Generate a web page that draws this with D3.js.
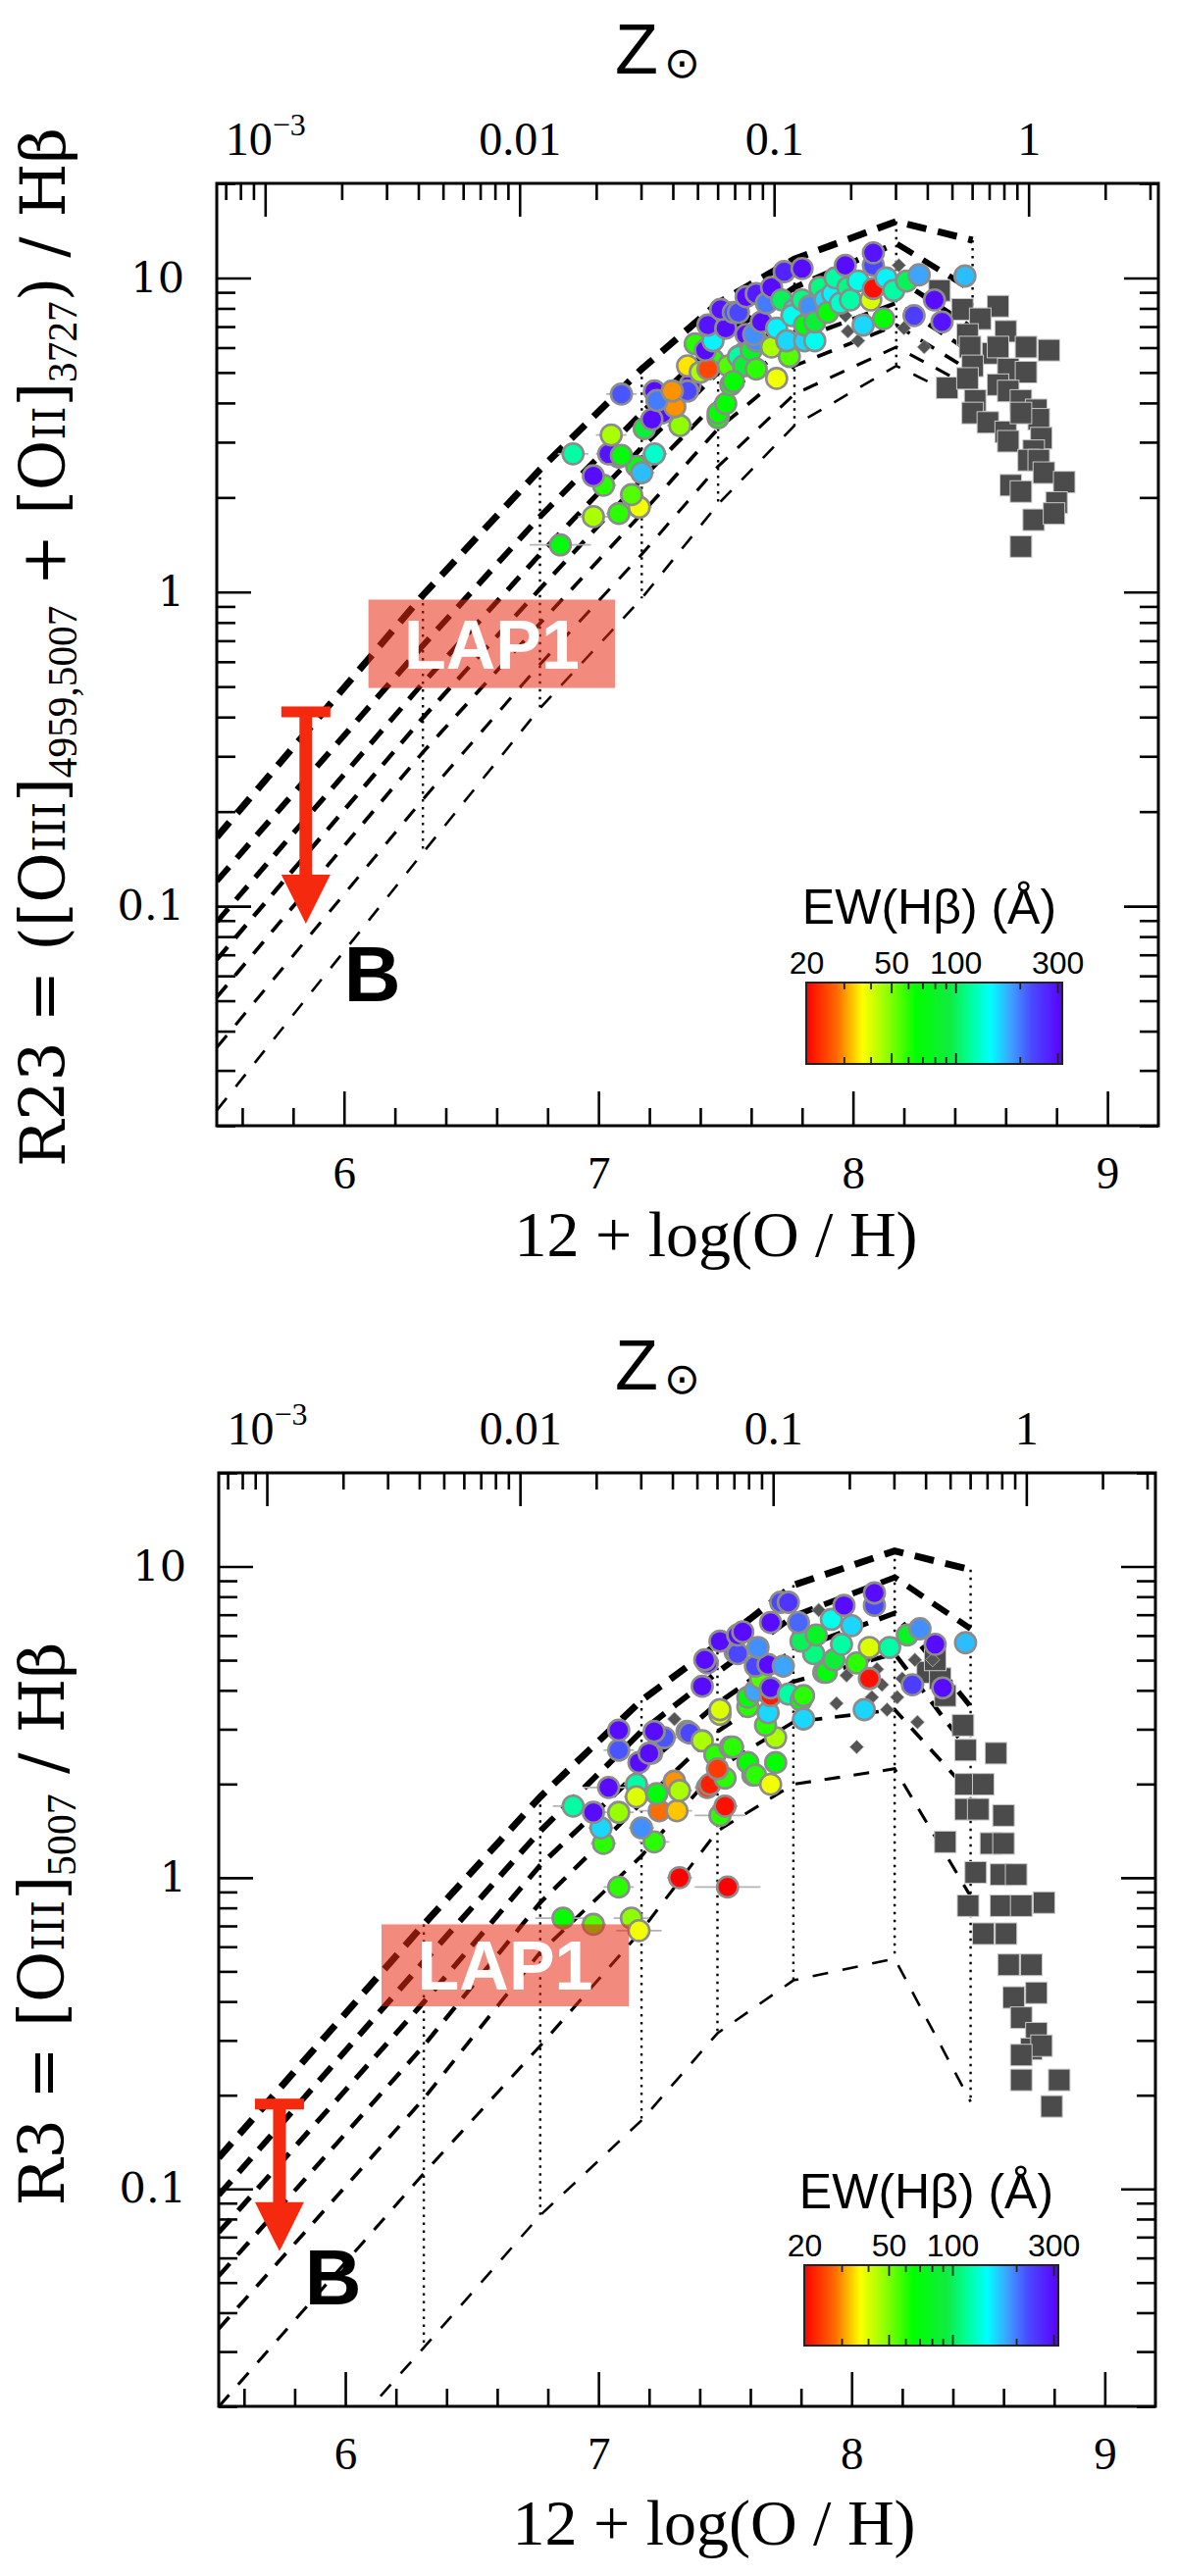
<!DOCTYPE html>
<html>
<head>
<meta charset="utf-8">
<script src="https://cdn.jsdelivr.net/npm/d3@7"></script>
<style>
  body { margin: 0; background: #fff; }
  svg { display: block; }
</style>
</head>
<body>
<svg id="fig" width="1200" height="2627"></svg>
<script>
/* Two-panel strong-line diagnostic: R23 and R3 against 12+log(O/H),
   photoionisation tracks, galaxies coloured by EW(Hb), and the LAP1 limit. */

const OH_MIN = 5.5, OH_MAX = 9.2, OH_SUN = 8.69;
const R_MIN = 0.02, R_MAX = 20;
const EW_MIN = 20, EW_MAX = 316;

// model grid: metallicity nodes, one row of log10(ratio) per ionisation-parameter track
const GRID_OH = [5.5, 6.31, 6.77, 7.17, 7.47, 7.77, 8.17, 8.47];
const R23_GRID = [
  [-0.78, -0.01,  0.39,  0.71, 0.92, 1.06, 1.18, 1.12],
  [-0.92, -0.17,  0.24,  0.57, 0.80, 0.97, 1.11, 0.96],
  [-1.05, -0.29,  0.12,  0.46, 0.70, 0.88, 1.00, 0.84],
  [-1.17, -0.40,  0.01,  0.36, 0.61, 0.80, 0.92, 0.76],
  [-1.29, -0.51, -0.10,  0.25, 0.52, 0.72, 0.85, 0.70],
  [-1.45, -0.66, -0.23,  0.12, 0.40, 0.63, 0.78, 0.65],
  [-1.65, -0.83, -0.37, -0.02, 0.28, 0.53, 0.72, 0.60]
];
const R3_GRID = [
  [-0.90, -0.15,  0.26,  0.57,  0.75,  0.94,  1.05,  0.99],
  [-1.02, -0.27,  0.15,  0.47,  0.66,  0.84,  0.965, 0.80],
  [-1.14, -0.40,  0.04,  0.35,  0.56,  0.73,  0.85,  0.55],
  [-1.28, -0.54, -0.08,  0.24,  0.47,  0.63,  0.72,  0.40],
  [-1.45, -0.71, -0.24,  0.07,  0.35,  0.50,  0.54,  0.27],
  [-1.70, -0.95, -0.54, -0.17,  0.15,  0.30,  0.35, -0.06],
  [-2.25, -1.51, -1.085,-0.78, -0.50, -0.33, -0.26, -0.72]
];

// galaxies: [12+log(O/H), log10 ratio, EW(Hb) in A, x error]
const R23_GALAXIES = [
  [6.85,0.15,70,0.12],[6.98,0.24,45,0.06],[7.08,0.25,60,0.05],[7.16,0.27,38,0.05],
  [7.13,0.31,55,0.04],[7.02,0.34,60,0.05],[6.98,0.37,300,0.04],[7.15,0.40,70,0.04],
  [7.17,0.38,170,0.05],[7.08,0.43,70,0.04],[7.22,0.44,130,0.05],[7.04,0.44,290,0.05],
  [6.90,0.44,120,0.06],[7.09,0.435,70,0.04],[7.18,0.52,90,0.04],[7.05,0.50,45,0.06],
  [7.25,0.57,300,0.03],[7.21,0.55,300,0.04],[7.32,0.53,48,0.05],[7.30,0.59,30,0.04],
  [7.22,0.64,300,0.04],[7.09,0.63,220,0.06],[7.23,0.61,200,0.04],[7.36,0.66,300,0.04],
  [7.35,0.64,230,0.05],[7.29,0.64,30,0.03],[7.35,0.72,35,0.04],[7.40,0.70,45,0.04],
  [7.47,0.555,65,0.04],[7.47,0.57,65,0.04],[7.50,0.60,65,0.04],[7.52,0.66,70,0.03],
  [7.45,0.74,60,0.03],[7.51,0.72,55,0.03],[7.43,0.71,25,0.03],[7.57,0.76,70,0.03],
  [7.38,0.79,60,0.04],[7.42,0.77,300,0.03],[7.45,0.80,150,0.03],[7.43,0.85,290,0.03],
  [7.50,0.84,300,0.03],[7.48,0.90,290,0.03],[7.53,0.89,220,0.03],[7.55,0.75,120,0.03],
  [7.57,0.72,90,0.03],[7.58,0.82,300,0.03],[7.60,0.77,80,0.03],[7.62,0.80,190,0.03],
  [7.61,0.82,190,0.03],[7.62,0.71,60,0.03],[7.53,0.67,65,0.03],[7.64,0.86,300,0.03],
  [7.55,0.89,230,0.03],[7.58,0.94,300,0.03],[7.62,0.95,280,0.03],[7.66,0.92,200,0.03],
  [7.68,0.97,300,0.03],[7.70,0.68,38,0.03],[7.68,0.78,45,0.03],[7.75,0.75,55,0.03],
  [7.70,0.84,150,0.03],[7.74,0.80,160,0.03],[7.72,0.93,100,0.03],[7.77,0.90,160,0.03],
  [7.76,0.88,140,0.03],[7.73,1.02,270,0.03],[7.80,1.03,300,0.03],[7.80,0.93,110,0.03],
  [7.81,0.80,160,0.03],[7.81,0.85,70,0.03],[7.83,0.91,190,0.03],[7.85,0.80,140,0.03],
  [7.85,0.86,90,0.03],[7.87,0.97,110,0.03],[7.89,0.93,160,0.03],[7.90,0.89,65,0.03],
  [7.92,0.95,150,0.03],[7.93,1.00,120,0.03],[7.95,0.92,130,0.03],[7.97,1.04,300,0.03],
  [7.98,0.97,110,0.03],[7.99,0.93,120,0.03],[8.02,0.99,140,0.03],[8.04,0.85,160,0.03],
  [8.07,0.93,40,0.03],[8.08,0.966,21,0.03],[8.08,1.04,230,0.03],[8.08,1.08,290,0.03],
  [8.12,0.87,65,0.03],[8.13,1.00,150,0.03],[8.16,0.96,120,0.03],[8.21,0.99,100,0.03],
  [8.26,1.01,180,0.03],[8.24,0.88,240,0.03],[8.32,0.93,300,0.03],[8.35,0.86,290,0.03],
  [8.44,1.006,170,0.03]
];
const R3_GALAXIES = [
  [6.86,-0.13,65,0.11],[6.98,-0.15,55,0.05],[7.13,-0.13,48,0.07],[7.16,-0.17,38,0.09],
  [7.08,-0.03,60,0.06],[7.32,0.0,20,0.05],[7.51,-0.03,20,0.13],[7.02,0.11,60,0.05],
  [7.22,0.115,60,0.06],[7.01,0.16,160,0.05],[7.17,0.16,190,0.05],[6.90,0.23,120,0.08],
  [6.98,0.21,300,0.05],[7.08,0.21,47,0.06],[7.24,0.215,28,0.08],[7.31,0.215,33,0.06],
  [7.48,0.20,60,0.10],[7.50,0.23,21,0.05],[7.04,0.29,300,0.10],[7.15,0.30,120,0.05],
  [7.15,0.26,40,0.05],[7.23,0.27,70,0.05],[7.30,0.31,30,0.05],[7.32,0.28,45,0.05],
  [7.43,0.29,24,0.05],[7.44,0.30,22,0.04],[7.16,0.37,300,0.04],[7.21,0.40,300,0.05],
  [7.20,0.40,300,0.04],[7.08,0.41,220,0.06],[7.26,0.45,220,0.05],[7.35,0.47,230,0.04],
  [7.36,0.465,230,0.04],[7.41,0.44,45,0.04],[7.22,0.47,300,0.04],[7.08,0.474,300,0.04],
  [7.46,0.395,60,0.04],[7.52,0.42,60,0.04],[7.50,0.32,60,0.04],[7.47,0.35,24,0.04],
  [7.53,0.42,60,0.03],[7.61,0.33,70,0.03],[7.59,0.37,65,0.03],[7.62,0.33,60,0.03],
  [7.68,0.30,38,0.03],[7.70,0.37,65,0.03],[7.70,0.45,45,0.03],[7.66,0.49,60,0.03],
  [7.48,0.525,40,0.04],[7.48,0.54,40,0.03],[7.59,0.55,60,0.03],[7.67,0.53,160,0.03],
  [7.59,0.58,70,0.03],[7.62,0.60,180,0.03],[7.68,0.585,22,0.03],[7.64,0.64,55,0.03],
  [7.68,0.61,300,0.03],[7.41,0.615,300,0.03],[7.62,0.68,230,0.03],[7.67,0.685,300,0.03],
  [7.43,0.69,300,0.03],[7.42,0.70,300,0.03],[7.54,0.725,300,0.03],[7.55,0.72,230,0.03],
  [7.63,0.74,190,0.03],[7.48,0.76,300,0.03],[7.55,0.78,300,0.03],[7.57,0.79,300,0.03],
  [7.68,0.82,300,0.03],[7.73,0.68,180,0.03],[7.75,0.59,120,0.03],[7.80,0.57,70,0.03],
  [7.81,0.585,60,0.03],[7.81,0.51,160,0.03],[7.89,0.66,60,0.03],[7.90,0.66,70,0.03],
  [7.93,0.70,90,0.03],[7.85,0.72,110,0.03],[7.80,0.76,100,0.03],[7.86,0.78,80,0.03],
  [7.79,0.82,210,0.03],[7.72,0.885,230,0.03],[7.75,0.885,250,0.03],[7.92,0.83,140,0.03],
  [7.96,0.75,120,0.03],[8.00,0.81,160,0.03],[8.02,0.69,60,0.03],[7.97,0.875,300,0.03],
  [8.05,0.54,160,0.03],[8.07,0.64,21,0.03],[8.07,0.74,40,0.03],[8.15,0.74,120,0.03],
  [8.09,0.875,230,0.03],[8.09,0.915,300,0.03],[8.22,0.78,80,0.03],[8.27,0.80,190,0.03],
  [8.24,0.62,240,0.03],[8.33,0.75,300,0.03],[8.36,0.61,300,0.03],[8.45,0.755,170,0.03]
];

// high-metallicity comparison sample (grey squares): [12+log(O/H), log10 ratio]
const R23_SQUARES = [
  [8.34,0.96],[8.43,0.90],[8.57,0.91],[8.50,0.87],[8.60,0.83],[8.68,0.78],[8.77,0.77],
  [8.45,0.82],[8.46,0.78],[8.55,0.76],[8.57,0.78],[8.47,0.72],[8.61,0.71],[8.68,0.70],
  [8.37,0.65],[8.45,0.68],[8.57,0.66],[8.61,0.64],[8.66,0.61],[8.48,0.61],[8.47,0.57],
  [8.53,0.54],[8.60,0.51],[8.72,0.58],[8.73,0.55],[8.66,0.57],[8.74,0.49],[8.61,0.48],
  [8.71,0.45],[8.69,0.42],[8.73,0.42],[8.75,0.38],[8.83,0.35],[8.62,0.34],[8.66,0.32],
  [8.80,0.285],[8.71,0.23],[8.79,0.25],[8.66,0.145]
];
const R3_SQUARES = [
  [8.30,0.66],[8.35,0.64],[8.33,0.70],[8.37,0.585],[8.44,0.49],[8.45,0.41],[8.57,0.40],
  [8.45,0.30],[8.52,0.30],[8.45,0.22],[8.50,0.22],[8.60,0.20],[8.37,0.115],[8.55,0.11],
  [8.60,0.11],[8.49,0.017],[8.59,0.01],[8.65,0.01],[8.46,-0.09],[8.59,-0.09],[8.67,-0.09],
  [8.76,-0.08],[8.52,-0.18],[8.61,-0.18],[8.62,-0.28],[8.71,-0.28],[8.73,-0.37],
  [8.64,-0.385],[8.67,-0.45],[8.73,-0.50],[8.71,-0.55],[8.75,-0.54],[8.67,-0.57],
  [8.82,-0.65],[8.67,-0.65],[8.79,-0.735]
];
// grey diamonds
const R23_DIAMONDS = [[8.02,0.80],[7.98,0.83],[7.97,0.88],[8.18,1.04],[8.20,0.84],[8.28,0.78]];
const R3_DIAMONDS = [
  [7.30,0.51],[8.02,0.42],[8.26,0.50],[8.14,0.54],[7.94,0.56],[8.08,0.58],[8.18,0.58],
  [8.26,0.62],[7.94,0.70],[8.05,0.70],[8.25,0.70],[8.32,0.70],[7.98,0.65],[8.10,0.67],
  [7.87,0.86],[8.20,0.64],[8.12,0.62]
];

// LAP1 upper limits: [12+log(O/H), limit value, arrow tip value]
const LAP1_R23 = [5.85, 0.417, 0.088];
const LAP1_R3  = [5.74, 0.188, 0.063];
// LAP1 label box [oh0, oh1, rTop, rBottom] and "B" anchor [oh, r]
const LAP1_BOX_R23 = [6.096, 7.065, 0.946, 0.495];
const LAP1_BOX_R3  = [6.143, 7.12, 0.708, 0.386];
const B_R23 = [6.0, 0.050];
const B_R3  = [5.84, 0.0425];

// ticks and colour bar
const X_MAJOR = [6, 7, 8, 9];
const Y_MAJOR = [0.1, 1, 10];
const Z_MAJOR = [0.001, 0.01, 0.1, 1];
const EW_LABELS = [20, 50, 100, 300];
const EW_MAJOR = [50, 100, 300];
const EW_MINOR = [30, 40, 60, 70, 80, 90, 200];
const EW_STOPS  = [0, 0.12, 0.22, 0.33, 0.43, 0.56, 0.64, 0.72, 0.80, 0.88, 1];
const EW_COLORS = ["#ff0000","#ff6a00","#ffff00","#80ff00","#00ff00","#10ec40",
                   "#00ff99","#00ffff","#40a0ff","#4a4aff","#5a00ff"];

// track styles, top (thickest) to bottom
const TRACK_W = [7, 6, 5.2, 4.4, 3.7, 3.1, 2.6];
const TRACK_DASH = ["20,12", "19,12", "18,12", "17,12", "16,13", "16,14", "16,15"];

const ewT = d3.scaleLog().domain([EW_MIN, EW_MAX]).range([0, 1]).clamp(true);
const ewColor = d3.scaleLinear().domain(EW_STOPS).range(EW_COLORS);
const colorFor = ew => ewColor(ewT(ew));

const PANELS = [
  { id: "r23", grid: R23_GRID, gal: R23_GALAXIES, sq: R23_SQUARES, dia: R23_DIAMONDS,
    lap: LAP1_R23, box: LAP1_BOX_R23, b: B_R23,
    L: { left: 221, right: 1181, top: 187, bottom: 1148, zBase: 75, zLeft: 627,
         xtX: 730, xtBase: 1281, ytX: 66, ytY: 660, ytLen: 1060,
         cb: { x0: 822, x1: 1083, y0: 1002, y1: 1085, title: 942 } },
    title: [
      { s: "R23 = ([O" }, { s: "III", fs: 44 }, { s: "]" },
      { s: "4959,5007", fs: 42, ff: "Liberation Serif", dy: 12 },
      { s: " + [O", dy: -12 }, { s: "II", fs: 44 }, { s: "]" },
      { s: "3727", fs: 42, ff: "Liberation Serif", dy: 12 },
      { s: ") / Hβ", dy: -12 }
    ] },
  { id: "r3", grid: R3_GRID, gal: R3_GALAXIES, sq: R3_SQUARES, dia: R3_DIAMONDS,
    lap: LAP1_R3, box: LAP1_BOX_R3, b: B_R3,
    L: { left: 223, right: 1178, top: 1502, bottom: 2454, zBase: 1417, zLeft: 627,
         xtX: 728, xtBase: 2595, ytX: 65, ytY: 1962, ytLen: 575,
         cb: { x0: 820, x1: 1079, y0: 2310, y1: 2392, title: 2252 } },
    title: [
      { s: "R3 = [O" }, { s: "III", fs: 44 }, { s: "]" },
      { s: "5007", fs: 42, ff: "Liberation Serif", dy: 12 },
      { s: " / Hβ", dy: -12 }
    ] }
];

const svg = d3.select("#fig");
const defs = svg.append("defs");

// colour-bar gradient
const grad = defs.append("linearGradient").attr("id", "ewgrad");
EW_STOPS.forEach((t, i) => grad.append("stop").attr("offset", t).attr("stop-color", EW_COLORS[i]));

function tidy(sel, font, size){
  sel.select(".domain").remove();
  sel.selectAll(".tick line").attr("stroke", "#000").attr("stroke-width", 2.6);
  sel.selectAll(".tick text").attr("fill", "#000").attr("font-family", font).attr("font-size", size);
}

function drawPanel(P){
  const L = P.L;
  const x = d3.scaleLinear().domain([OH_MIN, OH_MAX]).range([L.left, L.right]);
  const y = d3.scaleLog().domain([R_MIN, R_MAX]).range([L.bottom, L.top]);
  const z = d3.scaleLog().domain([10 ** (OH_MIN - OH_SUN), 10 ** (OH_MAX - OH_SUN)]).range([L.left, L.right]);
  const g = svg.append("g");

  defs.append("clipPath").attr("id", "clip-" + P.id).append("rect")
      .attr("x", L.left).attr("y", L.top).attr("width", L.right - L.left).attr("height", L.bottom - L.top);
  const plot = g.append("g").attr("clip-path", `url(#clip-${P.id})`);

  // dotted iso-metallicity connectors
  GRID_OH.forEach((oh, i) => {
    if (i === 0) return;
    const col = P.grid.map(r => r[i]);
    plot.append("line")
        .attr("x1", x(oh)).attr("x2", x(oh))
        .attr("y1", y(10 ** d3.max(col))).attr("y2", y(10 ** d3.min(col)))
        .attr("stroke", "#000").attr("stroke-width", 2.4).attr("stroke-dasharray", "2.5,5.5");
  });

  // dashed ionisation-parameter tracks
  const track = d3.line().x((d, i) => x(GRID_OH[i])).y(d => y(10 ** d));
  P.grid.forEach((row, k) => plot.append("path")
      .attr("d", track(row)).attr("fill", "none").attr("stroke", "#000")
      .attr("stroke-width", TRACK_W[k]).attr("stroke-dasharray", TRACK_DASH[k]));

  // grey comparison samples
  plot.selectAll(".sq").data(P.sq).join("rect")
      .attr("x", d => x(d[0]) - 11).attr("y", d => y(10 ** d[1]) - 11)
      .attr("width", 22).attr("height", 22)
      .attr("fill", "#4b4b4b").attr("stroke", "#c8c8c8").attr("stroke-width", 1);
  plot.selectAll(".dia").data(P.dia).join("path")
      .attr("d", d3.symbol(d3.symbolDiamond2, 130))
      .attr("transform", d => `translate(${x(d[0])},${y(10 ** d[1])})`)
      .attr("fill", "#555").attr("stroke", "#bbb").attr("stroke-width", 0.8);

  // galaxies: error bars first, then circles
  plot.selectAll(".err").data(P.gal).join("line")
      .attr("x1", d => x(d[0] - d[3])).attr("x2", d => x(d[0] + d[3]))
      .attr("y1", d => y(10 ** d[1])).attr("y2", d => y(10 ** d[1]))
      .attr("stroke", "#b4b4b4").attr("stroke-width", 1.8);
  plot.selectAll(".gal").data(P.gal).join("circle")
      .attr("cx", d => x(d[0])).attr("cy", d => y(10 ** d[1])).attr("r", 10.6)
      .attr("fill", d => colorFor(d[2])).attr("stroke", "#8c8c8c").attr("stroke-width", 2.6);

  // LAP1 label box (translucent) and text
  const bx0 = x(P.box[0]), bx1 = x(P.box[1]), by0 = y(P.box[2]), by1 = y(P.box[3]);
  g.append("rect").attr("x", bx0).attr("y", by0).attr("width", bx1 - bx0).attr("height", by1 - by0)
      .attr("fill", "#ea2a14").attr("fill-opacity", 0.55);
  g.append("text").attr("x", (bx0 + bx1) / 2).attr("y", (by0 + by1) / 2 + 25)
      .attr("text-anchor", "middle").attr("font-family", "Liberation Sans, Arial, sans-serif")
      .attr("font-weight", "bold").attr("font-size", 70).attr("fill", "#fff").text("LAP1");

  // LAP1 upper-limit arrow
  const ax = x(P.lap[0]), aTop = y(P.lap[1]), aTip = y(P.lap[2]);
  const red = "#f5290d";
  g.append("rect").attr("x", ax - 25).attr("y", aTop - 5).attr("width", 50).attr("height", 11).attr("fill", red);
  g.append("rect").attr("x", ax - 6.5).attr("y", aTop).attr("width", 13).attr("height", aTip - 48 - aTop).attr("fill", red);
  g.append("path").attr("d", `M${ax - 25},${aTip - 50}L${ax + 25},${aTip - 50}L${ax},${aTip}Z`).attr("fill", red);

  g.append("text").attr("x", x(P.b[0])).attr("y", y(P.b[1]))
      .attr("font-family", "Liberation Sans, Arial, sans-serif").attr("font-weight", "bold")
      .attr("font-size", 80).attr("fill", "#000").text("B");

  // colour bar
  const cb = L.cb;
  const ewx = d3.scaleLog().domain([EW_MIN, EW_MAX]).range([cb.x0, cb.x1]);
  g.append("rect").attr("x", cb.x0).attr("y", cb.y0).attr("width", cb.x1 - cb.x0).attr("height", cb.y1 - cb.y0)
      .attr("fill", "url(#ewgrad)").attr("stroke", "#222").attr("stroke-width", 2);
  [[EW_MAJOR, 11], [EW_MINOR, 7]].forEach(([vals, len]) => {
    g.append("g").attr("transform", `translate(0,${cb.y0})`)
        .call(d3.axisBottom(ewx).tickValues(vals).tickSize(len).tickFormat("")).call(s => tidy(s))
        .selectAll(".tick line").attr("stroke-width", 1.8).attr("stroke", "#222");
    g.append("g").attr("transform", `translate(0,${cb.y1})`)
        .call(d3.axisTop(ewx).tickValues(vals).tickSize(len).tickFormat("")).call(s => tidy(s))
        .selectAll(".tick line").attr("stroke-width", 1.8).attr("stroke", "#222");
  });
  g.append("g").attr("transform", `translate(0,${cb.y0})`)
      .call(d3.axisTop(ewx).tickValues(EW_LABELS).tickSize(0).tickPadding(9).tickFormat(d3.format("d")))
      .call(s => tidy(s, "Liberation Sans, Arial, sans-serif", 32))
      .selectAll(".tick line").remove();
  g.append("text").attr("x", (cb.x0 + cb.x1) / 2 - 5).attr("y", cb.title)
      .attr("text-anchor", "middle").attr("font-family", "Liberation Sans, Arial, sans-serif")
      .attr("font-size", 50).attr("fill", "#000").text("EW(Hβ) (Å)");

  // axes: ticks point inward
  const serif = "Liberation Serif, Times New Roman, serif";
  const xMinor = d3.range(5.6, 9.19, 0.2).filter(v => Math.abs(v - Math.round(v)) > 0.01);
  g.append("g").attr("transform", `translate(0,${L.bottom})`)
      .call(d3.axisBottom(x).tickValues(xMinor).tickSize(-18).tickFormat("")).call(s => tidy(s));
  g.append("g").attr("transform", `translate(0,${L.bottom})`)
      .call(d3.axisBottom(x).tickValues(X_MAJOR).tickSize(-35).tickPadding(31).tickFormat(d3.format("d")))
      .call(s => tidy(s, serif, 47));

  const yMinor = y.ticks().filter(v => !Y_MAJOR.some(m => Math.abs(m - v) < 1e-9));
  g.append("g").attr("transform", `translate(${L.left},0)`)
      .call(d3.axisLeft(y).tickValues(yMinor).tickSize(-19).tickFormat("")).call(s => tidy(s));
  g.append("g").attr("transform", `translate(${L.left},0)`)
      .call(d3.axisLeft(y).tickValues(Y_MAJOR).tickSize(-35).tickPadding(33).tickFormat(d3.format("~g")))
      .call(s => tidy(s, "DejaVu Serif, serif", 43));
  g.append("g").attr("transform", `translate(${L.right},0)`)
      .call(d3.axisRight(y).tickValues(yMinor).tickSize(-19).tickFormat("")).call(s => tidy(s));
  g.append("g").attr("transform", `translate(${L.right},0)`)
      .call(d3.axisRight(y).tickValues(Y_MAJOR).tickSize(-35).tickFormat("")).call(s => tidy(s));

  const zMinor = z.ticks().filter(v => !Z_MAJOR.some(m => Math.abs(m - v) / m < 1e-6));
  g.append("g").attr("transform", `translate(0,${L.top})`)
      .call(d3.axisTop(z).tickValues(zMinor).tickSize(-17).tickFormat("")).call(s => tidy(s));
  const zAxis = g.append("g").attr("transform", `translate(0,${L.top})`)
      .call(d3.axisTop(z).tickValues(Z_MAJOR).tickSize(-34).tickPadding(29).tickFormat(d3.format("~g")))
      .call(s => tidy(s, serif, 48));
  zAxis.selectAll(".tick text").filter(d => d === 0.001).text("10")
      .append("tspan").attr("dy", -20).attr("font-size", 32).text("−3");

  // frame
  g.append("rect").attr("x", L.left).attr("y", L.top)
      .attr("width", L.right - L.left).attr("height", L.bottom - L.top)
      .attr("fill", "none").attr("stroke", "#000").attr("stroke-width", 3);

  // axis titles
  const zt = g.append("text").attr("x", L.zLeft).attr("y", L.zBase)
      .attr("font-family", "Liberation Sans, Arial, sans-serif").attr("font-size", 72).attr("fill", "#000");
  zt.append("tspan").text("Z");
  zt.append("tspan").attr("dx", 6).attr("dy", 4).attr("font-family", "DejaVu Sans, sans-serif")
      .attr("font-size", 44).text("⊙");

  g.append("text").attr("x", L.xtX).attr("y", L.xtBase).attr("text-anchor", "middle")
      .attr("font-family", serif).attr("font-size", 66).attr("fill", "#000").text("12 + log(O / H)");

  const yt = g.append("text").attr("font-family", "DejaVu Serif, serif").attr("font-size", 64)
      .attr("fill", "#000");
  P.title.forEach(p => {
    const t = yt.append("tspan").text(p.s);
    if (p.fs) t.attr("font-size", p.fs);
    if (p.ff) t.attr("font-family", p.ff);
    if (p.dy) t.attr("dy", p.dy);
  });
  const w = yt.node().getComputedTextLength();
  yt.attr("transform", `translate(${L.ytX},${L.ytY + L.ytLen / 2}) rotate(-90) scale(${L.ytLen / w},1)`);
}

PANELS.forEach(drawPanel);
</script>
</body>
</html>
